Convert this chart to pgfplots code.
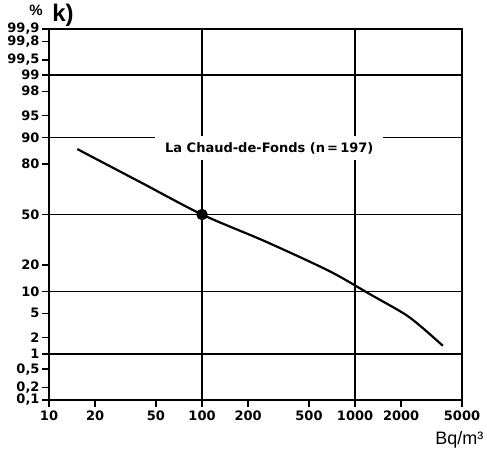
\documentclass[border=0pt]{standalone}
\usepackage{fontspec}
\setmainfont{Liberation Sans}
\newfontfamily\tickfont{DejaVu Sans}
\usepackage{pgfplots}
\pgfplotsset{compat=1.18}

% y values are probits (normal quantiles) of the cumulative percentage
\begin{document}
\begin{tikzpicture}
\path[use as bounding box] (-49pt,-55pt) rectangle (438pt,400pt);
\begin{axis}[
    at={(0,0)}, anchor=south west,
    scale only axis,
    width=413pt, height=371pt,
    xmode=log,
    xmin=10, xmax=5000,
    ymin=-3.0902, ymax=3.0902,
    axis line style={line width=1.6pt},
    xtick={10,20,50,100,200,500,1000,2000,5000},
    xticklabels={10,20,50,100,200,500,1000,2000,5000},
    xminorticks=false,
    ytick={-3.0902,-2.8782,-2.5758,-2.3263,-2.0537,-1.6449,-1.2816,-0.8416,0,0.8416,1.2816,1.6449,2.0537,2.3263,2.5758,2.8782,3.0902},
    yticklabels={{0,1},{0,2},{0,5},1,2,5,10,20,50,80,90,95,98,99,{99,5},{99,8},{99,9}},
    tick align=outside,
    tick pos=left,
    major tick length=7pt,
    tick style={line width=1.4pt, black},
    tick label style={font=\tickfont\fontsize{13}{15}\selectfont\bfseries},
    yticklabel style={xshift=1pt},
    extra x ticks={100,1000},
    extra x tick labels={},
    extra x tick style={grid=major, major tick length=0pt},
    extra y ticks={-2.3263,-1.2816,0,1.2816,2.3263},
    extra y tick labels={},
    extra y tick style={grid=major, major tick length=0pt},
    major grid style={line width=1.5pt, black},
    clip=false,
]
% cumulative frequency curve
\addplot[line width=2.2pt, black, smooth] coordinates {
    (15.3,1.090) (40,0.532) (100,0) (260,-0.450) (682,-0.945)
    (1256,-1.330) (2089,-1.651) (2694,-1.865) (3750,-2.187)
};
\addplot[only marks, mark=*, mark size=5.5pt, black] coordinates {(100,0)};

\node[fill=white, inner xsep=10pt, inner ysep=6.5pt,
      font=\tickfont\fontsize{13}{15}\selectfont\bfseries] at (axis cs:275,1.108)
      {La Chaud-de-Fonds (n\,=\,197)};

\node[anchor=east, font=\fontsize{18}{20}\selectfont]
      at ([xshift=25pt,yshift=-40pt]rel axis cs:1,0) {Bq/m³};
\node[font=\fontsize{15}{17}\selectfont\bfseries]
      at ([xshift=-13pt,yshift=19pt]rel axis cs:0,1) {\%};
\node[font=\fontsize{24}{26}\selectfont\bfseries]
      at ([xshift=14pt,yshift=14pt]rel axis cs:0,1) {k)};
\end{axis}
\end{tikzpicture}
\end{document}
